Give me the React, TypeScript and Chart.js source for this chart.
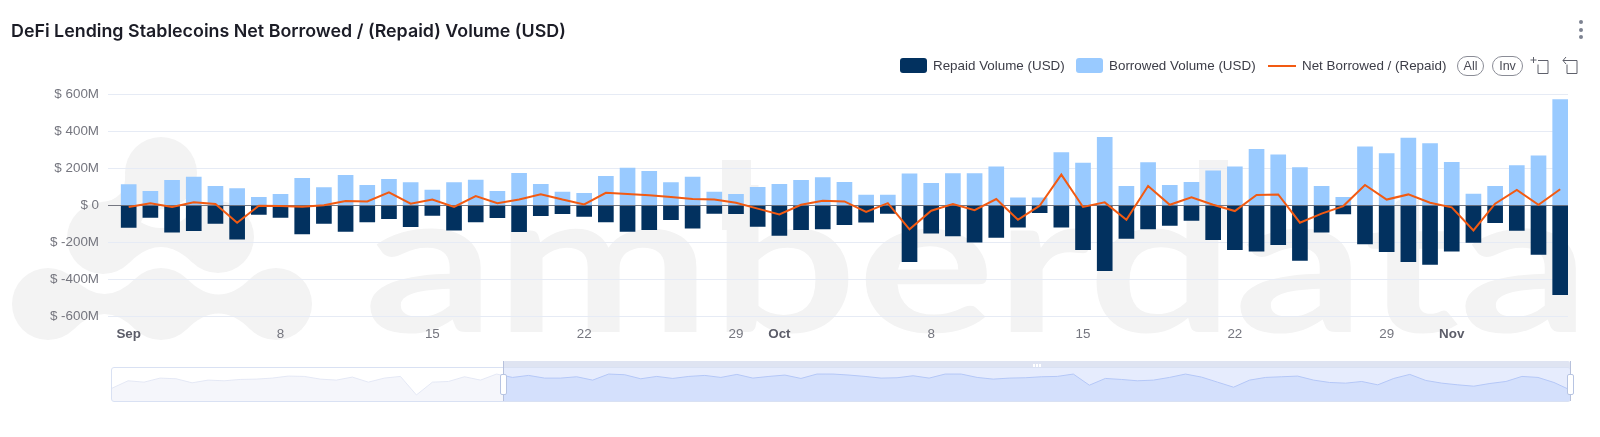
import React, { useEffect, useRef } from "react";
import { Chart, registerables } from "chart.js";

Chart.register(...registerables);

const repaid = [-117,-63,-143,-135,-96,-181,-47,-63,-152,-96,-139,-87,-70,-114,-52,-132,-87,-65,-141,-54,-43,-58,-87,-139,-130,-76,-121,-42,-43,-112,-161,-130,-125,-103,-89,-42,-302,-148,-164,-197,-172,-116,-38,-116,-237,-351,-177,-125,-107,-80,-183,-237,-246,-211,-296,-143,-45,-206,-249,-302,-318,-246,-199,-92,-134,-264,-481];
const borrowed = [114,78,137,155,105,92,45,61,148,98,164,110,143,125,85,125,139,78,175,116,74,67,159,204,186,125,155,74,61,99,116,137,152,126,58,58,172,121,173,173,210,42,42,287,231,369,105,233,110,126,188,210,305,275,206,105,45,318,282,365,336,235,63,105,217,269,573];
const netFlow = [-7,13,-7,18,9,-92,0,-2,-5,3,25,23,72,11,33,-7,52,13,34,62,33,7,70,63,56,47,36,33,16,-16,-47,5,27,23,-33,14,-128,-27,9,-24,36,-76,0,168,-7,18,-76,107,5,45,5,-29,58,61,-92,-43,-2,112,33,61,16,-9,-134,11,85,5,89];
const tickIndex = [0,7,14,21,28,30,37,44,51,58,61];
const tickLabels = ["Sep","8","15","22","29","Oct","8","15","22","29","Nov"];
const monthLabels = ["Sep","Oct","Nov"];
const overviewLine = [38,60,56,68,66,54,62,60,64,65,68,74,73,65,62,71,56,68,73,18,56,58,72,62,80,70,76,68,68,72,62,80,78,66,73,67,73,76,70,79,68,73,77,67,80,80,77,73,68,69,75,68,80,80,70,65,68,69,72,73,80,47,67,64,60,62,70,80,71,56,41,62,70,72,74,62,55,53,58,48,67,79,61,53,48,44,52,58,73,70,55,33];
const yTicks = [-600,-400,-200,0,200,400,600];

const FONT = '"Liberation Sans", Arial, sans-serif';

type P = { x: number; y: number };
const logoCircles: P[] = [
  { x: 161, y: 173 }, { x: 103, y: 238 }, { x: 218, y: 237 },
  { x: 48, y: 304 }, { x: 161, y: 304 }, { x: 276, y: 304 },
];
const logoNecks: [number, number][] = [[0, 1], [1, 2], [3, 4], [4, 5]];
function neck(a: P, b: P) {
  const dx = b.x - a.x, dy = b.y - a.y, l = Math.hypot(dx, dy);
  const ux = dx / l, uy = dy / l, nx = -uy, ny = ux, k = 25.5, w = 51 - l / 2;
  const mx = (a.x + b.x) / 2, my = (a.y + b.y) / 2;
  const pt = (c: P, along: number, perp: number) => `${c.x + ux * along + nx * perp} ${c.y + uy * along + ny * perp}`;
  return `M${pt(a, k, k)} Q${mx + nx * w} ${my + ny * w} ${pt(b, -k, k)} L${pt(b, -k, -k)} Q${mx - nx * w} ${my - ny * w} ${pt(a, k, -k)} Z`;
}

const abs = (x: number, y: number, w: number, h: number): React.CSSProperties => ({ position: "absolute", left: x, top: y, width: w, height: h });
const SEL_LEFT = 503, SEL_RIGHT = 1570, NAV_LEFT = 112, NAV_TOP = 368, NAV_H = 33;
const isMonth = (c: any) => monthLabels.includes(tickLabels[tickIndex.indexOf(c?.tick?.value)]);

function LegendText({ x, w, children }: { x: number; w: number; children: string }) {
  return <div style={{ position: "absolute", left: x, top: 58, width: w, height: 18, lineHeight: "18px", font: `13.4px ${FONT}`, color: "#3c3d47", whiteSpace: "nowrap" }}>{children}</div>;
}

export default function App() {
  const mainRef = useRef<HTMLCanvasElement>(null);
  const navRef = useRef<HTMLCanvasElement>(null);

  useEffect(() => {
    const zeroLine = {
      id: "zeroLine",
      beforeDatasetDraw(chart: any, args: any) {
        if (args.index !== 0) return;
        const { ctx, chartArea, scales } = chart;
        const y = Math.floor(scales.y.getPixelForValue(0)) + 0.5;
        ctx.save();
        ctx.strokeStyle = "rgba(85,88,100,0.8)";
        ctx.lineWidth = 1;
        ctx.beginPath();
        ctx.moveTo(chartArea.left, y);
        ctx.lineTo(chartArea.right, y);
        ctx.stroke();
        ctx.restore();
      },
    };
    const points = (arr: number[]) => arr.map((y, x) => ({ x, y }));
    const main = new Chart(mainRef.current as HTMLCanvasElement, {
      type: "bar",
      plugins: [zeroLine],
      data: {
        datasets: [
          { type: "line", label: "Net Borrowed / (Repaid)", data: points(netFlow), borderColor: "#f25a12", borderWidth: 2, pointRadius: 0, tension: 0, order: 0 },
          { label: "Borrowed Volume (USD)", data: points(borrowed), backgroundColor: "#99caff", barThickness: 15, grouped: false, order: 1 },
          { label: "Repaid Volume (USD)", data: points(repaid), backgroundColor: "#02315f", barThickness: 15, grouped: false, order: 2 },
        ] as any,
      },
      options: {
        animation: false,
        responsive: false,
        layout: { padding: { top: 94.7, right: 32, left: 0, bottom: 0 } },
        plugins: { legend: { display: false }, title: { display: false }, tooltip: { enabled: false } },
        scales: {
          x: {
            type: "linear",
            offset: false,
            min: -0.954,
            max: 66.36,
            grid: { display: false, offset: false },
            border: { display: false },
            afterFit(s: any) { s.height = 120.3; },
            afterBuildTicks(s: any) { s.ticks = tickIndex.map((value) => ({ value })); },
            ticks: {
              autoSkip: false,
              maxRotation: 0,
              padding: 2,
              color: (c: any) => (isMonth(c) ? "#5c5d69" : "#75767f"),
              font: (c: any) => ({ family: FONT, size: 13.4, weight: isMonth(c) ? "bold" : "normal" }),
              callback: (v: any) => tickLabels[tickIndex.indexOf(Number(v))] ?? "",
            },
          },
          y: {
            min: -600,
            max: 600,
            afterFit(s: any) { s.width = 108; },
            afterBuildTicks(s: any) { s.ticks = yTicks.map((value) => ({ value })); },
            grid: { color: (c: any) => (c?.tick?.value === 0 ? "rgba(0,0,0,0)" : "#e6ebf5"), lineWidth: 1, drawTicks: false },
            border: { display: false },
            ticks: {
              padding: 9,
              color: "#75767f",
              font: { family: FONT, size: 13.4 },
              callback: (v: any) => (Number(v) === 0 ? "$ 0" : `$ ${v}M`),
            },
          },
        },
      } as any,
    });

    const selFrom = (SEL_LEFT - NAV_LEFT) / (SEL_RIGHT - NAV_LEFT);
    const splitColor = (left: string, right: string) => (c: any) => {
      const a = c.chart.chartArea;
      if (!a) return right;
      const g = c.chart.ctx.createLinearGradient(a.left, 0, a.right, 0);
      g.addColorStop(0, left);
      g.addColorStop(selFrom, left);
      g.addColorStop(selFrom, right);
      g.addColorStop(1, right);
      return g;
    };
    const navPlugin = {
      id: "navSelection",
      beforeDatasetsDraw(chart: any) {
        const { ctx, chartArea: a } = chart;
        ctx.save();
        ctx.fillStyle = "#e6ecfd";
        ctx.fillRect(a.left + selFrom * a.width, a.top, a.width * (1 - selFrom), a.height);
        ctx.restore();
      },
    };
    const navLabels = overviewLine.map((_, i) => String(i));
    const nav = new Chart(navRef.current as HTMLCanvasElement, {
      type: "line",
      plugins: [navPlugin],
      data: {
        labels: navLabels,
        datasets: [
          { data: overviewLine, borderColor: splitColor("#e4e8f5", "#b4c7f7"), backgroundColor: splitColor("#f5f6fb", "#d4e0fc"), fill: "start", borderWidth: 1, pointRadius: 0, tension: 0 },
        ],
      },
      options: {
        animation: false,
        responsive: false,
        layout: { padding: 0 },
        plugins: { legend: { display: false }, tooltip: { enabled: false } },
        scales: { x: { display: false }, y: { display: false, min: 0, max: 98 } },
      } as any,
    });
    return () => { main.destroy(); nav.destroy(); };
  }, []);

  return (
    <div style={{ position: "absolute", left: 0, top: 0, width: 1600, height: 437, overflow: "hidden", background: "#fff" }}>
      <svg width={1600} height={437} style={{ position: "absolute", left: 0, top: 0 }}>
        <g fill="#f3f3f3">
          {logoCircles.map((c, i) => <circle key={i} cx={c.x} cy={c.y} r={36} />)}
          {logoNecks.map(([a, b], i) => <path key={i} d={neck(logoCircles[a], logoCircles[b])} />)}
          <text x={364} y={332} textLength={1226} lengthAdjust="spacingAndGlyphs" style={{ font: `700 198px Lato, sans-serif` }}>amberdata</text>
          <rect x={722} y={160} width={29} height={70} />
          <rect x={1199} y={160} width={29} height={70} />
        </g>
      </svg>

      <canvas ref={mainRef} width={1600} height={437} style={{ position: "absolute", left: 0, top: 0, width: 1600, height: 437 }} />

      <div style={{ position: "absolute", left: 11, top: 20, font: `600 17.85px Inter, sans-serif`, color: "#1b1c26", whiteSpace: "nowrap" }}>DeFi Lending Stablecoins Net Borrowed / (Repaid) Volume (USD)</div>

      {[22, 29.5, 37].map((y) => <div key={y} style={{ ...abs(1579, y - 2, 4, 4), borderRadius: 2, background: "#7d8291" }} />)}

      <div style={{ ...abs(900, 58, 27, 15), background: "#02315f", borderRadius: 3 }} />
      <LegendText x={933} w={135}>Repaid Volume (USD)</LegendText>
      <div style={{ ...abs(1076, 58, 27, 15), background: "#99caff", borderRadius: 3 }} />
      <LegendText x={1109} w={150}>Borrowed Volume (USD)</LegendText>
      <div style={{ ...abs(1268, 65, 28, 2), background: "#f25a12" }} />
      <LegendText x={1302} w={150}>Net Borrowed / (Repaid)</LegendText>
      <div style={{ ...abs(1457, 56, 27, 20), boxSizing: "border-box", border: "1px solid #8a8c96", borderRadius: 10, font: `12.5px ${FONT}`, color: "#4a4b55", textAlign: "center", lineHeight: "18px" }}>All</div>
      <div style={{ ...abs(1492, 56, 31, 20), boxSizing: "border-box", border: "1px solid #8a8c96", borderRadius: 10, font: `12.5px ${FONT}`, color: "#4a4b55", textAlign: "center", lineHeight: "18px" }}>Inv</div>
      <svg width={50} height={24} style={{ position: "absolute", left: 1530, top: 55 }} fill="none" stroke="#5e606b" strokeWidth={1}>
        <path d="M3.5 2v6M0.5 5h6M8 5.5h10v13h-10v-9" />
        <path d="M33 5.5h14v13h-10v-9M36 2l-3 3.5 3 3.5" />
      </svg>

      <div style={{ ...abs(SEL_LEFT, 361, SEL_RIGHT - SEL_LEFT, 7), background: "#dfe4f2", borderRadius: "2px 2px 0 0" }} />
      {[0, 3, 6].map((d) => <div key={d} style={{ ...abs(1033 + d, 364, 1.5, 4), background: "#fff" }} />)}
      <canvas ref={navRef} width={SEL_RIGHT - NAV_LEFT} height={NAV_H} style={{ ...abs(NAV_LEFT, NAV_TOP, SEL_RIGHT - NAV_LEFT, NAV_H) }} />
      <div style={{ ...abs(NAV_LEFT - 1, NAV_TOP - 1, SEL_RIGHT - NAV_LEFT + 2, NAV_H + 2), boxSizing: "border-box", border: "1px solid #d9e1f3", borderRadius: 3 }} />
      {[SEL_LEFT, SEL_RIGHT].map((x) => (
        <React.Fragment key={x}>
          <div style={{ ...abs(x - 0.5, 361, 1, 40), background: "#b7c1dc" }} />
          <div style={{ ...abs(x - 3.5, 374, 7, 21), boxSizing: "border-box", background: "#fff", border: "1px solid #b7c4e2", borderRadius: 2 }} />
        </React.Fragment>
      ))}
    </div>
  );
}
